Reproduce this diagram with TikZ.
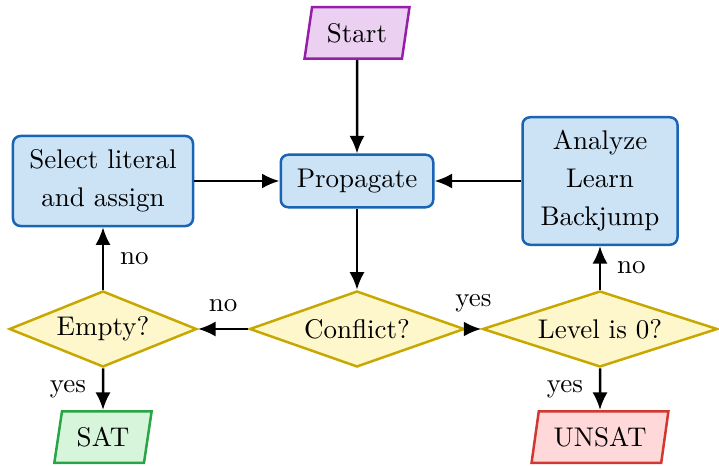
\documentclass[tikz,border=0pt]{standalone}
\usepackage{xcolor}
\usepackage{tikz}
\usetikzlibrary{shapes.geometric, arrows.meta}
\definecolor{start-fill}{RGB}{236,208,242}
\definecolor{start-draw}{RGB}{150,30,170}
\definecolor{proc-fill}{RGB}{204,226,245}
\definecolor{proc-draw}{RGB}{25,100,180}
\definecolor{dec-fill}{RGB}{255,247,204}
\definecolor{dec-draw}{RGB}{200,168,0}
\definecolor{sat-fill}{RGB}{214,245,218}
\definecolor{sat-draw}{RGB}{40,165,70}
\definecolor{unsat-fill}{RGB}{255,217,217}
\definecolor{unsat-draw}{RGB}{210,55,50}
\tikzset{
    process/.style = {rectangle, rounded corners=3pt, draw=proc-draw, fill=proc-fill,
        line width=1pt, align=center, font=\fontsize{10.8}{15.2}\selectfont},
    decision/.style = {diamond, draw=dec-draw, fill=dec-fill, line width=1pt,
        inner sep=0pt, minimum height=30.4pt},
    io/.style = {trapezium, trapezium left angle=80, trapezium right angle=100,
        trapezium stretches=true, line width=1pt, minimum height=20.6pt},
    flow/.style = {-{Latex[length=7pt,width=6pt]}, line width=1pt},
}

\begin{document}
\begin{tikzpicture}[x=0.4pt, y=-0.4pt, font=\fontsize{10.8}{13}\selectfont]
\useasboundingbox (0,0) rectangle (719,466);

% terminals
\node (start)[io, draw=start-draw, fill=start-fill, minimum width=42pt] at (357,33) {Start};
\node (sat)[io, draw=sat-draw, fill=sat-fill, minimum width=39pt] at (103,437) {SAT};
\node (unsat)[io, draw=unsat-draw, fill=unsat-fill, minimum width=55pt] at (600,437) {UNSAT};

% processes
\node (prop)[process, minimum width=61pt, minimum height=21pt] at (357,181) {Propagate};
\node (select)[process, minimum width=72pt, minimum height=36pt] at (103,181) {Select literal\\and assign};
\node (analyze)[process, minimum width=62pt, minimum height=51pt] at (600,181) {Analyze\\Learn\\Backjump};

% decisions
\node (conflict)[decision, aspect=2.8, minimum width=86pt] at (357,329) {Conflict?};
\node (empty)[decision, aspect=2.5, minimum width=75pt] at (103,329) {Empty?};
\node (level)[decision, aspect=3.1, minimum width=94pt] at (600,329) {Level is 0?};

% connectors
\draw[flow] (start) -- (prop);
\draw[flow] (select) -- (prop);
\draw[flow] (analyze) -- (prop);
\draw[flow] (prop) -- (conflict);
\draw[flow] (conflict) -- node[above=3pt] {no} (empty);
\draw[flow] (conflict) -- node[above=3pt] {yes} (level);
\draw[flow] (empty) -- node[right=3pt] {no} (select);
\draw[flow] (empty) -- node[left=3pt] {yes} (sat);
\draw[flow] (level) -- node[right=3pt] {no} (analyze);
\draw[flow] (level) -- node[left=3pt] {yes} (unsat);

\end{tikzpicture}
\end{document}
